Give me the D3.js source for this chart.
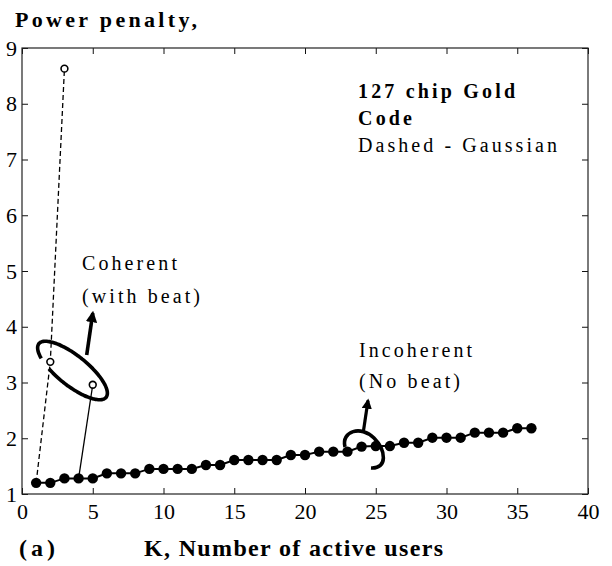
<!DOCTYPE html>
<html>
<head>
<meta charset="utf-8">
<script src="https://cdn.jsdelivr.net/npm/d3@7"></script>
<style>
  html, body { margin: 0; padding: 0; background: #fff; }
  svg { display: block; }
  text { font-family: "Liberation Serif", "Times New Roman", serif; fill: #000; }
</style>
</head>
<body>
<svg id="chart" width="612" height="566"></svg>
<script>
// ---- data ----
const kIncoherent = [1,2,3,4,5,6,7,8,9,10,11,12,13,14,15,16,17,18,19,20,21,22,23,24,25,26,27,28,29,30,31,32,33,34,35,36];
const incoherentPenalty = [1.20,1.20,1.28,1.28,1.28,1.37,1.37,1.37,1.45,1.45,1.45,1.45,1.52,1.52,1.61,1.61,1.61,1.61,1.70,1.70,1.76,1.76,1.76,1.85,1.86,1.86,1.92,1.92,2.01,2.01,2.01,2.10,2.10,2.10,2.18,2.18];
const kGaussian = [1,2,3];
const gaussianPenalty = [1.20,3.37,8.63];
const kCoherent = [4,5];
const coherentPenalty = [1.28,2.96];
const xTicks = [0,5,10,15,20,25,30,35,40];
const yTicks = [1,2,3,4,5,6,7,8,9];

// ---- layout ----
const svg = d3.select("#chart");
const L = 22, R = 588, T = 48, B = 494;
const x = d3.scaleLinear().domain([0,40]).range([L,R]);
const y = d3.scaleLinear().domain([1,9]).range([B,T]);

// axes (inward ticks on all four sides)
const axStyle = g => {
  g.select(".domain").remove();
  g.selectAll(".tick line").attr("stroke","#111").attr("stroke-width",1);
  g.selectAll(".tick text").attr("font-size",22).attr("font-family","'Liberation Serif', serif").attr("fill","#000");
};
svg.append("g").attr("transform",`translate(0,${B})`)
  .call(d3.axisBottom(x).tickValues(xTicks).tickSizeInner(-6).tickSizeOuter(0).tickPadding(9).tickFormat(d3.format("d")))
  .call(axStyle);
svg.append("g").attr("transform",`translate(0,${T})`)
  .call(d3.axisTop(x).tickValues(xTicks).tickSizeInner(-6).tickSizeOuter(0).tickFormat(""))
  .call(axStyle);
svg.append("g").attr("transform",`translate(${L},0)`)
  .call(d3.axisLeft(y).tickValues(yTicks).tickSizeInner(-6).tickSizeOuter(0).tickPadding(5).tickFormat(d3.format("d")))
  .call(axStyle);
svg.append("g").attr("transform",`translate(${R},0)`)
  .call(d3.axisRight(y).tickValues(yTicks).tickSizeInner(-6).tickSizeOuter(0).tickFormat(""))
  .call(axStyle);

svg.append("rect").attr("x",L).attr("y",T).attr("width",R-L).attr("height",B-T)
  .attr("fill","none").attr("stroke","#222").attr("stroke-width",1.2);

// ---- series ----
const line = d3.line().x(d => x(d[0])).y(d => y(d[1]));
const incoh = kIncoherent.map((k,i) => [k, incoherentPenalty[i]]);
const gauss = kGaussian.map((k,i) => [k, gaussianPenalty[i]]);
const coh = kCoherent.map((k,i) => [k, coherentPenalty[i]]);

svg.append("path").datum(gauss).attr("d",line)
  .attr("fill","none").attr("stroke","#000").attr("stroke-width",1.3).attr("stroke-dasharray","5,3");
svg.append("path").datum(coh).attr("d",line)
  .attr("fill","none").attr("stroke","#000").attr("stroke-width",1.3);
svg.append("path").datum(incoh).attr("d",line)
  .attr("fill","none").attr("stroke","#000").attr("stroke-width",2);
svg.selectAll("circle.inc").data(incoh).join("circle").attr("class","inc")
  .attr("cx",d => x(d[0])).attr("cy",d => y(d[1])).attr("r",5.2).attr("fill","#000");
svg.selectAll("circle.open").data(gauss.slice(1).concat(coh.slice(1))).join("circle").attr("class","open")
  .attr("cx",d => x(d[0])).attr("cy",d => y(d[1])).attr("r",3.4)
  .attr("fill","#fff").attr("stroke","#000").attr("stroke-width",1.6);

// ---- annotations ----
// coherent ellipse (open near its left end)
{
  const cx = 72.5, cy = 370.5, a = 43, b = 15, ang = 38.6;
  const pts = d3.range(138, 118 + 360, 3).map(t => {
    const r = t*Math.PI/180;
    return [a*Math.cos(r), b*Math.sin(r)];
  });
  svg.append("path")
    .attr("d", d3.line().curve(d3.curveBasis)(pts))
    .attr("transform",`translate(${cx},${cy}) rotate(${ang})`)
    .attr("fill","none").attr("stroke","#000").attr("stroke-width",3.6);
}
// incoherent arc
svg.append("path")
  .attr("d","M345,447 C341,431 361,425 374,438 C386,450 388,469 371,468")
  .attr("fill","none").attr("stroke","#000").attr("stroke-width",3.6);

// arrows
const defs = svg.append("defs");
defs.append("marker").attr("id","ah").attr("viewBox","0 0 10 10").attr("refX",8).attr("refY",5)
  .attr("markerWidth",3.2).attr("markerHeight",3.2).attr("orient","auto")
  .append("path").attr("d","M0,0 L10,5 L0,10 z").attr("fill","#000");
svg.append("line").attr("x1",86.7).attr("y1",355).attr("x2",92.8).attr("y2",313)
  .attr("stroke","#000").attr("stroke-width",3.6).attr("marker-end","url(#ah)");
svg.append("line").attr("x1",363.3).attr("y1",432).attr("x2",368).attr("y2",400.5)
  .attr("stroke","#000").attr("stroke-width",3.2).attr("marker-end","url(#ah)");

// ---- texts ----
function txt(s, xx, yy, size, weight, len) {
  const t = svg.append("text").attr("x",xx).attr("y",yy).attr("font-size",size)
    .attr("font-weight",weight).text(s);
  if (len) t.attr("textLength",len).attr("lengthAdjust","spacing");
  return t;
}
txt("Power penalty,", 15, 27, 22, "bold", 182);
txt("127 chip Gold", 358, 98, 20, "bold", 157);
txt("Code", 358, 125, 20, "bold", 54);
txt("Dashed - Gaussian", 358, 152, 20, "normal", 199);
txt("Coherent", 82, 270, 20, "normal", 95);
txt("(with beat)", 82, 303, 20, "normal", 118);
txt("Incoherent", 359, 357, 20, "normal", 113);
txt("(No beat)", 359, 388, 20, "normal", 101);
txt("(a)", 19, 556, 24, "bold", 36);
txt("K, Number of active users", 144, 556, 24, "bold", 299);
</script>
</body>
</html>
